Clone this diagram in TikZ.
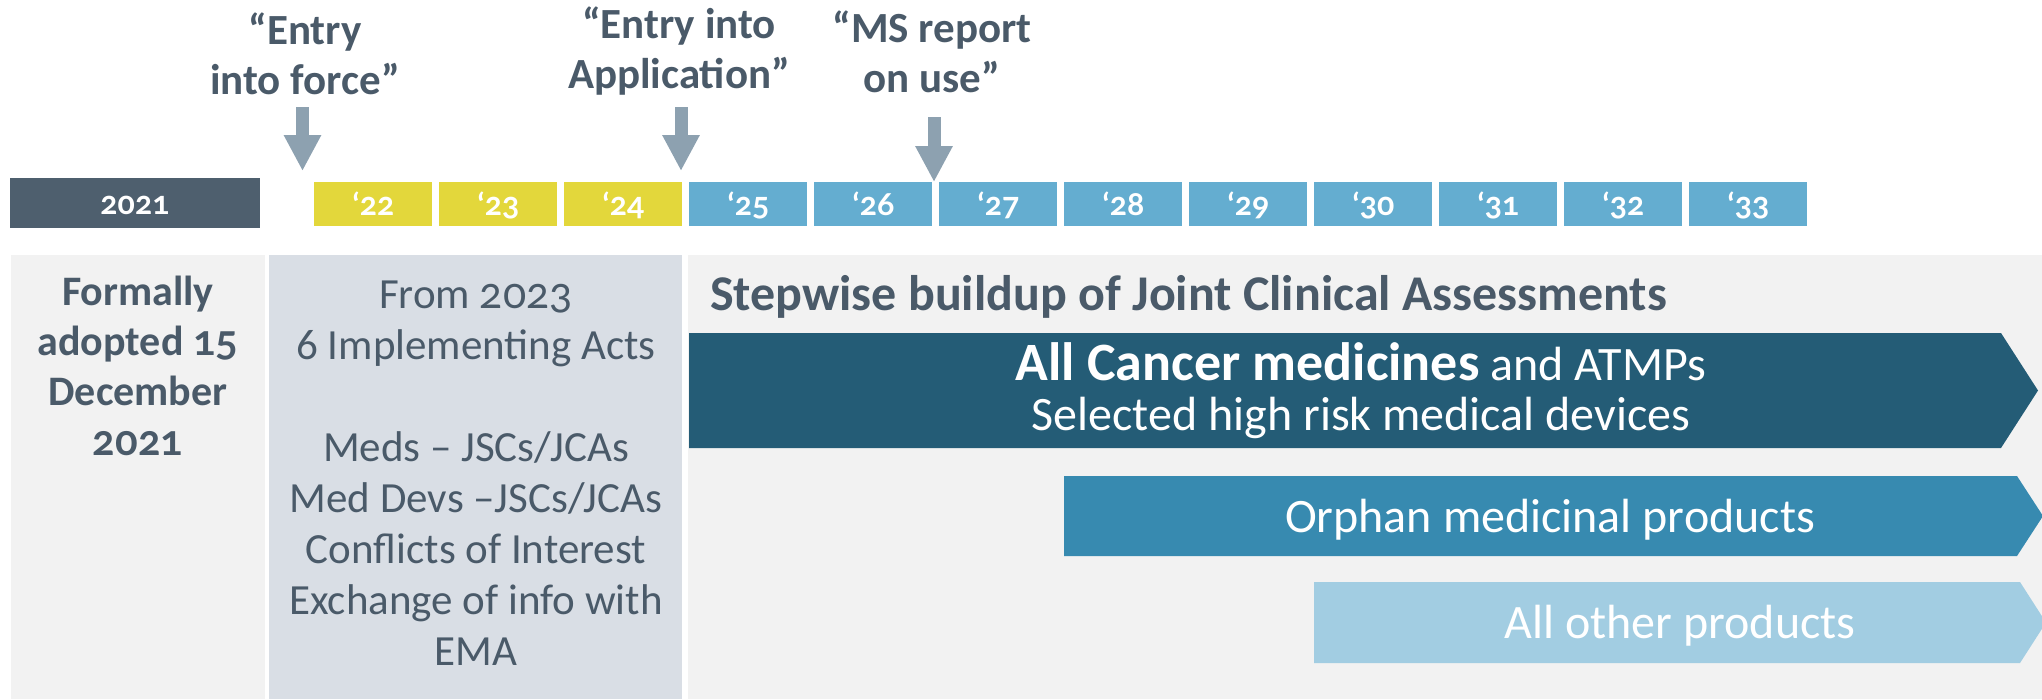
\documentclass[tikz,border=0pt]{standalone}
\usepackage{fontspec}
\setmainfont{Carlito}
% old-style figures for years and dates
\newfontfamily\osf{Lato}[Numbers=OldStyle]
\usetikzlibrary{arrows.meta}

\definecolor{slate}{HTML}{4A5A69}
\definecolor{yearDark}{HTML}{4E5F6E}
\definecolor{yearYellow}{HTML}{E3D73B}
\definecolor{yearBlue}{HTML}{64ADD0}
\definecolor{pointer}{HTML}{8DA1B0}
\definecolor{panelLight}{HTML}{F2F2F2}
\definecolor{panelMid}{HTML}{D9DEE5}
\definecolor{bandDark}{HTML}{245C76}
\definecolor{bandMid}{HTML}{378AB0}
\definecolor{bandLight}{HTML}{A2CDE2}

\begin{document}
\begin{tikzpicture}[x=1pt,y=-1pt,
  % multi-line nodes below are placed by the baseline of their last line
  milestone/.style={font=\bfseries\fontsize{43}{50}\selectfont, text=slate, align=center, inner sep=0pt, anchor=base},
  yearbox/.style={minimum width=118pt, minimum height=44pt, inner sep=0pt,
    text height=23pt, text depth=0pt, text=white, font=\bfseries\fontsize{32}{32}\selectfont},
  marker/.style={pointer, line width=13pt, -{Triangle[width=35pt,length=36pt]}},
  paneltext/.style={text=slate, align=center, inner sep=0pt, anchor=base},
  bandtext/.style={text=white, align=center, inner sep=0pt, anchor=base, font=\fontsize{48}{50}\selectfont}
]
\useasboundingbox (0,0) rectangle (2042,699);
\clip (0,0) rectangle (2042,699);

% ---- timeline of years ----
\node[yearbox, fill=yearDark, minimum width=250pt, minimum height=50pt] (y21) at (135,203) {{\osf 2021}};
\foreach \yr [count=\i from 0] in {22,23,24}
  \node[yearbox, fill=yearYellow] (y\yr) at (373+125*\i,203.5) {‘{\osf\yr}};
\foreach \yr [count=\i from 3] in {25,26,27,28,29,30,31,32,33}
  \node[yearbox, fill=yearBlue] (y\yr) at (373+125*\i,203.5) {‘{\osf\yr}};

% ---- milestones ----
\node[milestone] (force) at (305,94) {“Entry\\into force”};
\node[milestone] (appl) at (679,88) {“Entry into\\Application”};
\node[milestone] (msrep) at (932,92) {“MS report\\on use”};

\coordinate (forceTop) at (302.5,107);
\coordinate (forceTip) at (302.5,171);
\coordinate (applTop) at (681,107);
\coordinate (applTip) at (681,171);
\coordinate (msrepTop) at (934,117);
\coordinate (msrepTip) at (934,182);
\draw[marker] (forceTop) -- (forceTip);
\draw[marker] (applTop) -- (applTip);
\draw[marker] (msrepTop) -- (msrepTip);

% ---- lower panels ----
\fill[panelLight] (11,255) rectangle (265,699);
\fill[panelMid] (269,255) rectangle (682,699);
\fill[panelLight] (688,255) rectangle (2042,699);

\node[paneltext, font=\bfseries\fontsize{42}{50}\selectfont] (adopted) at (138,455)
  {Formally\\adopted {\osf 15}\\December\\{\osf 2021}};
\node[paneltext, font=\fontsize{43}{51}\selectfont] (acts) at (476,665)
  {From {\osf 2023}\\6 Implementing Acts\\[51pt]Meds – JSCs/JCAs\\Med Devs –JSCs/JCAs\\Conflicts of Interest\\Exchange of info with\\EMA};

\node[text=slate, inner sep=0pt, anchor=base west, font=\bfseries\fontsize{50}{50}\selectfont] (stepwise) at (710,310)
  {Stepwise buildup of Joint Clinical Assessments};

% ---- product bands ----
\fill[bandDark] (689,333) -- (2001,333) -- (2038,390.5) -- (2001,448) -- (689,448) -- cycle;
\fill[bandMid] (1064,476) -- (2017,476) -- (2043,516) -- (2017,556) -- (1064,556) -- cycle;
\fill[bandLight] (1314,582) -- (2020,582) -- (2046,622.5) -- (2020,663) -- (1314,663) -- cycle;

\node[bandtext] (cancer) at (1361,430)
  {{\bfseries\fontsize{54}{54}\selectfont All Cancer medicines} and ATMPs\\Selected high risk medical devices};
\node[bandtext] (orphan) at (1550,532) {Orphan medicinal products};
\node[bandtext] (other) at (1680,638) {All other products};
\end{tikzpicture}
\end{document}
